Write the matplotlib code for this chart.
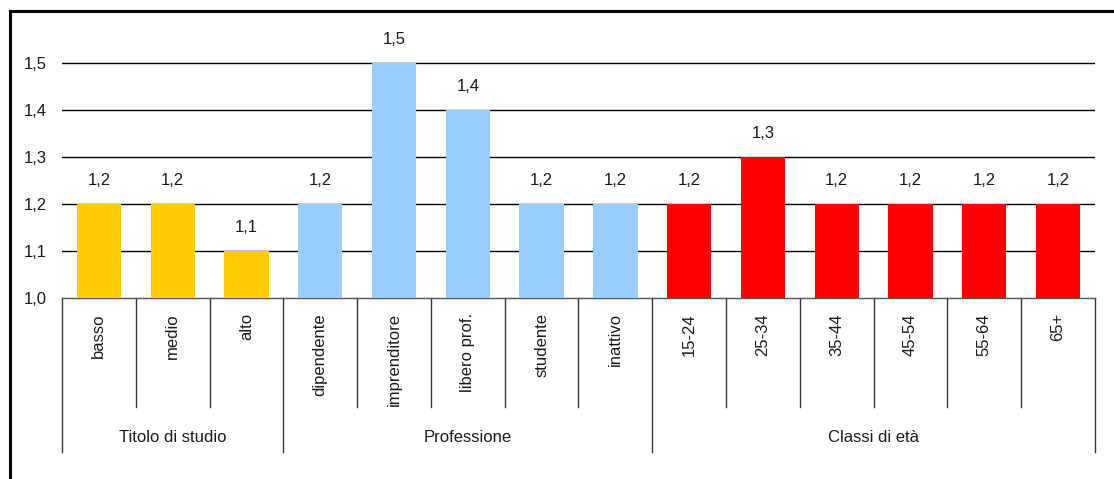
import matplotlib
matplotlib.use("Agg")
import matplotlib.pyplot as plt
from matplotlib.patches import Rectangle
from matplotlib.transforms import blended_transform_factory

plt.rcParams['font.family'] = ['Liberation Sans Narrow', 'Liberation Sans', 'DejaVu Sans']

categorie = ["basso", "medio", "alto",
             "dipendente", "imprenditore", "libero prof.", "studente", "inattivo",
             "15-24", "25-34", "35-44", "45-54", "55-64", "65+"]
valori = [1.2, 1.2, 1.1,
          1.2, 1.5, 1.4, 1.2, 1.2,
          1.2, 1.3, 1.2, 1.2, 1.2, 1.2]
gruppi = ["Titolo di studio", "Professione", "Classi di età"]
dim_gruppi = [3, 5, 6]
colori_gruppi = ["#FFCC00", "#99CCFF", "#FF0000"]
yticks = [1.0, 1.1, 1.2, 1.3, 1.4, 1.5]

testo = "#1a1a1a"

fig = plt.figure(figsize=(11.14, 4.79), dpi=100)
ax = fig.add_axes([62 / 1114, 181 / 479, 1033 / 1114, 282 / 479])

colori = []
for c, n in zip(colori_gruppi, dim_gruppi):
    colori += [c] * n

x = list(range(len(categorie)))
base = yticks[0]
ax.bar(x, [v - base for v in valori], bottom=base, width=0.6, color=colori, zorder=3)

for xi, v in zip(x, valori):
    ax.annotate(f"{v:.1f}".replace(".", ","), (xi, v), xytext=(0, 17), textcoords="offset points",
                ha="center", va="center", fontsize=12, color=testo)

ax.set_xlim(-0.5, len(categorie) - 0.5)
ax.set_ylim(1.0, 1.6)
ax.set_yticks(yticks)
ax.set_yticklabels([f"{t:.1f}".replace(".", ",") for t in yticks], fontsize=12, color=testo)
ax.tick_params(axis="y", length=0, pad=11)
ax.set_xticks([])
for s in ["top", "right", "left"]:
    ax.spines[s].set_visible(False)
ax.spines["bottom"].set_color("#555555")
ax.spines["bottom"].set_linewidth(1)

for t in yticks[1:]:
    ax.axhline(t, color="black", lw=1, zorder=1)

# separatori sotto l'asse: categorie e gruppi
tr = blended_transform_factory(ax.transData, ax.transAxes)
cat_drop = -109 / 282
grp_drop = -154 / 282
confini = [0]
for n in dim_gruppi:
    confini.append(confini[-1] + n)
for i in range(len(categorie) + 1):
    xb = i - 0.5
    y1 = grp_drop if i in confini else cat_drop
    ax.plot([xb, xb], [0, y1], transform=tr, color="#333333", lw=1, clip_on=False)

for xi, lab in zip(x, categorie):
    ax.text(xi, -15 / 282, lab, transform=tr, rotation=90, ha="center", va="top",
            fontsize=12, color=testo)

for g, a, b in zip(gruppi, confini[:-1], confini[1:]):
    ax.text((a + b - 1) / 2, -139 / 282, g, transform=tr, ha="center", va="center",
            fontsize=12, color=testo)

# cornice esterna
fig.patches.append(Rectangle((9.5 / 1114, -0.05), 1.1, (479 - 11) / 479 + 0.05,
                             transform=fig.transFigure, fill=False, edgecolor="black", lw=2.2))

fig.savefig("out.png", dpi=100)
